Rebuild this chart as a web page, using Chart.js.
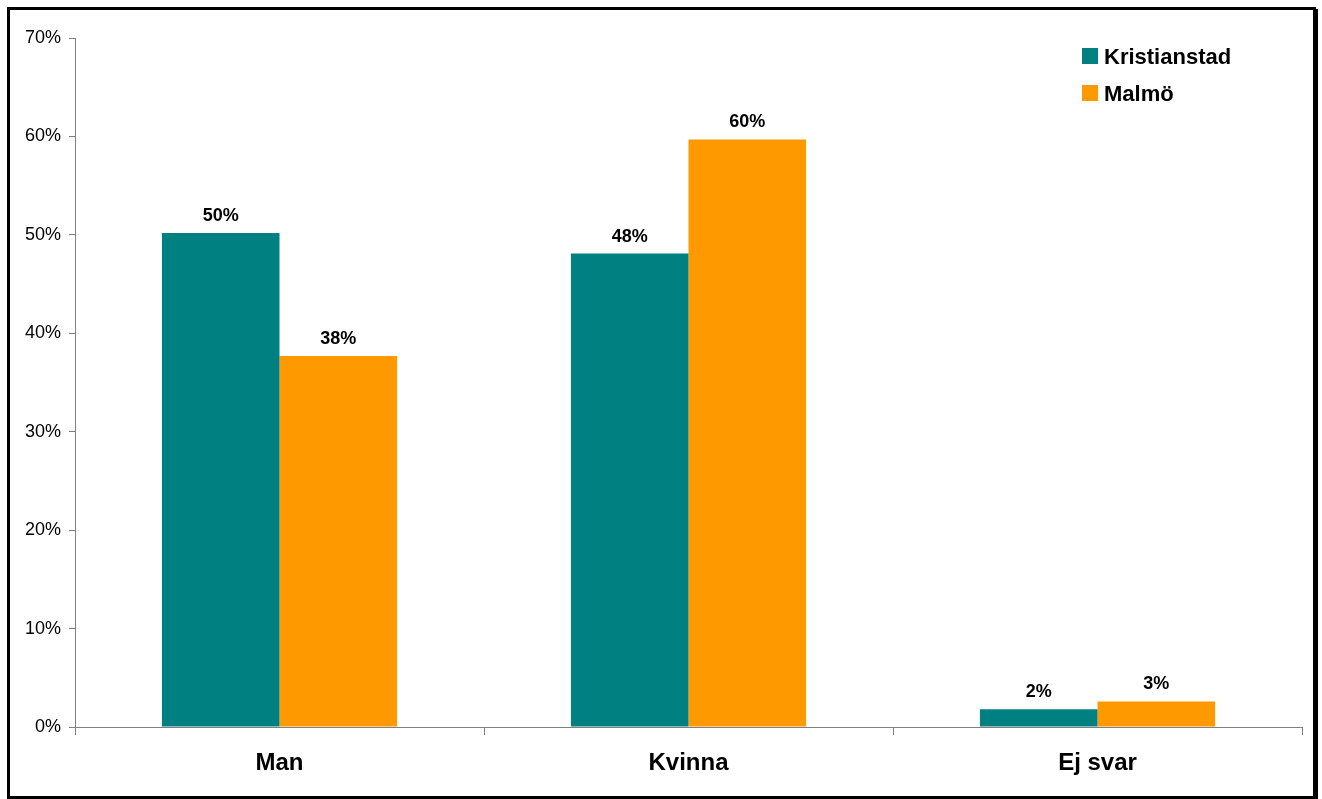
<!DOCTYPE html>
<html>
<head>
<meta charset="utf-8">
<script src="https://cdn.jsdelivr.net/npm/chart.js@4/dist/chart.umd.min.js"></script>
<style>
  html, body { margin: 0; padding: 0; background: #fff; overflow: hidden; }
  #wrap { position: relative; width: 1322px; height: 799px; }
  #frame {
    position: absolute; left: 7px; top: 7px; width: 1303px; height: 786px;
    border: 3px solid #000; box-shadow: 2px 2px 0 #000; pointer-events: none;
  }
</style>
</head>
<body>
<div id="wrap">
  <canvas id="chart" width="1322" height="799"></canvas>
  <div id="frame"></div>
</div>
<script>
// Data
const categories = ['Man', 'Kvinna', 'Ej svar'];
const kristianstad = [50.2, 48.1, 1.8];
const malmo = [37.7, 59.7, 2.6];
const yTicks = [0, 10, 20, 30, 40, 50, 60, 70];

const FONT = "'Liberation Sans', Arial, sans-serif";

// value labels above bars
const barLabels = {
    id: 'barLabels',
    afterDatasetsDraw(chart) {
        const ctx = chart.ctx;
        ctx.save();
        ctx.font = 'bold 18px ' + FONT;
        ctx.fillStyle = '#000';
        ctx.textAlign = 'center';
        ctx.textBaseline = 'alphabetic';
        chart.data.datasets.forEach((ds, i) => {
            chart.getDatasetMeta(i).data.forEach((bar, j) => {
                ctx.fillText(Math.round(ds.data[j]) + '%', bar.x, bar.y - 12);
            });
        });
        ctx.restore();
    }
};

// legend in top right corner
const boxLegend = {
    id: 'boxLegend',
    afterDraw(chart) {
        const ctx = chart.ctx;
        ctx.save();
        ctx.font = 'bold 22px ' + FONT;
        ctx.textBaseline = 'alphabetic';
        chart.data.datasets.forEach((ds, i) => {
            const top = 48 + i * 37;
            ctx.fillStyle = ds.backgroundColor;
            ctx.fillRect(1082, top, 16, 16);
            ctx.fillStyle = '#000';
            ctx.fillText(ds.label, 1104, top + 16);
        });
        ctx.restore();
    }
};

new Chart(document.getElementById('chart'), {
    type: 'bar',
    data: {
        labels: categories,
        datasets: [
            { label: 'Kristianstad', data: kristianstad, backgroundColor: '#008080' },
            { label: 'Malmö', data: malmo, backgroundColor: '#FF9900' }
        ]
    },
    options: {
        responsive: false,
        animation: false,
        categoryPercentage: 0.575,
        barPercentage: 1,
        layout: { padding: { left: 0, top: 38, right: 20, bottom: 0 } },
        plugins: {
            legend: { display: false },
            tooltip: { enabled: false }
        },
        scales: {
            x: {
                afterFit(scale) { scale.height = 72; },
                grid: { offset: true, drawOnChartArea: false, drawTicks: true, tickLength: 8, color: '#808080' },
                border: { color: '#808080', width: 1 },
                ticks: { color: '#000', padding: 14, font: { family: FONT, size: 24, weight: 'bold' } }
            },
            y: {
                min: 0,
                max: 70,
                afterFit(scale) { scale.width = 75; },
                afterBuildTicks(scale) { scale.ticks = yTicks.map(v => ({ value: v })); },
                grid: { drawOnChartArea: false, drawTicks: true, tickLength: 6, color: '#808080' },
                border: { color: '#808080', width: 1 },
                ticks: {
                    color: '#000',
                    padding: 8,
                    font: { family: FONT, size: 18 },
                    callback: v => v + '%'
                }
            }
        }
    },
    plugins: [barLabels, boxLegend]
});
</script>
</body>
</html>
